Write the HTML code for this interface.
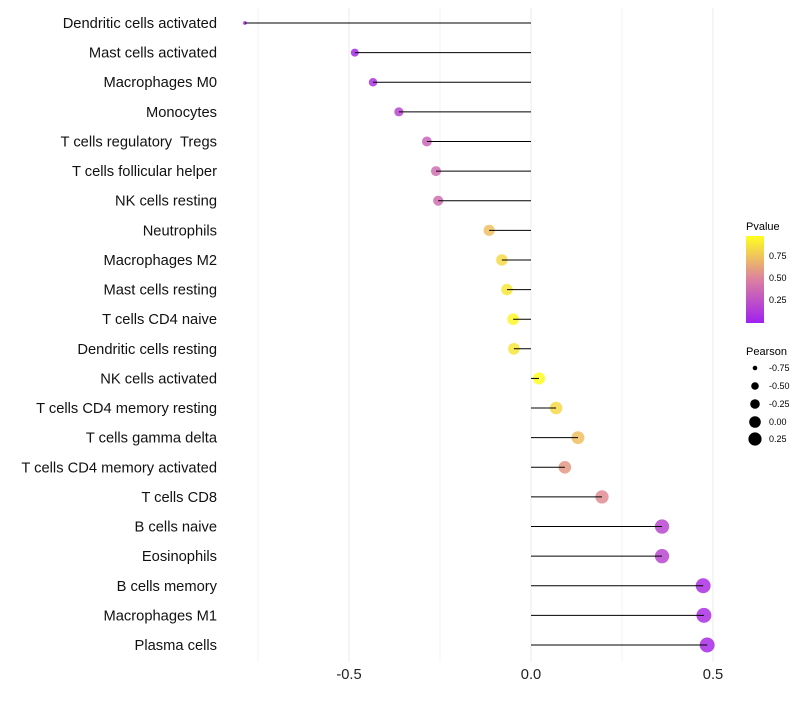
<!DOCTYPE html>
<html><head><meta charset="utf-8"><style>
body{margin:0;background:#fff;font-family:"Liberation Sans",sans-serif}
text{white-space:pre}
</style></head><body>
<svg id="c" width="800" height="700" xmlns="http://www.w3.org/2000/svg">
<defs><linearGradient id="pg" x1="0" y1="1" x2="0" y2="0">
<stop offset="0" stop-color="#a020f0"/><stop offset="0.5" stop-color="#dc80a0"/><stop offset="1" stop-color="#ffff20"/></linearGradient></defs>
<g id="grid"></g><g id="marks"></g><g id="labels"></g>
<g>
<text x="746" y="230" font-size="11">Pvalue</text>
<rect x="746" y="236" width="18" height="87" fill="url(#pg)"/>
<text x="769" y="259" font-size="9">0.75</text>
<text x="769" y="281" font-size="9">0.50</text>
<text x="769" y="303" font-size="9">0.25</text>
</g>
<g>
<text x="746" y="355" font-size="11">Pearson</text>
<circle cx="755" cy="368" r="2.3"/><text x="769" y="371" font-size="9">-0.75</text>
<circle cx="755" cy="386" r="3.8"/><text x="769" y="389" font-size="9">-0.50</text>
<circle cx="755" cy="404" r="4.8"/><text x="769" y="407" font-size="9">-0.25</text>
<circle cx="755" cy="422" r="5.8"/><text x="769" y="425" font-size="9">0.00</text>
<circle cx="755" cy="439" r="6.6"/><text x="769" y="442" font-size="9">0.25</text>
</g>
</svg>
<script>
const categories=["Dendritic cells activated","Mast cells activated","Macrophages M0","Monocytes","T cells regulatory  Tregs","T cells follicular helper","NK cells resting","Neutrophils","Macrophages M2","Mast cells resting","T cells CD4 naive","Dendritic cells resting","NK cells activated","T cells CD4 memory resting","T cells gamma delta","T cells CD4 memory activated","T cells CD8","B cells naive","Eosinophils","B cells memory","Macrophages M1","Plasma cells"];
const pearson=[-0.786,-0.484,-0.434,-0.363,-0.286,-0.261,-0.255,-0.115,-0.080,-0.066,-0.049,-0.047,0.022,0.069,0.129,0.093,0.195,0.36,0.36,0.473,0.475,0.484];
const pvalue=[0.0,0.05,0.1,0.2,0.35,0.4,0.4,0.75,0.85,0.9,0.97,0.9,1.0,0.85,0.75,0.6,0.55,0.2,0.2,0.08,0.08,0.06];
const xTicks=[-0.5,0,0.5];
const xTickLabels=["-0.5","0.0","0.5"];
const xGrid=[-0.75,-0.25,0.25];
const NS="http://www.w3.org/2000/svg";
const X=v=>531+v*364;
const Y=i=>23+i*(622/21);
const R=v=>Math.sqrt(3.2+(v+0.79)/1.27*52.8);
function lerp(a,b,t){return a.map((x,k)=>Math.round(x+(b[k]-x)*t));}
function col(p){const a=[160,32,240],m=[220,128,160],b=[255,255,32];const c=p<0.5?lerp(a,m,p/0.5):lerp(m,b,(p-0.5)/0.5);return `rgb(${c.join(",")})`;}
function mk(t,at,parent){const e=document.createElementNS(NS,t);for(const k in at)e.setAttribute(k,at[k]);parent.appendChild(e);return e;}
const grid=document.getElementById('grid'),marks=document.getElementById('marks'),labels=document.getElementById('labels');
xTicks.concat(xGrid).forEach(v=>{const l=mk('line',{x1:X(v),x2:X(v),y1:8,y2:662,stroke:'#ebebeb','stroke-width':xTicks.includes(v)?1:0.6},grid);

});
xTicks.forEach((v,i)=>{const t=mk('text',{x:X(v),y:679,'font-size':14.7,'text-anchor':'middle',fill:'#222'},labels);t.textContent=xTickLabels[i];

});
categories.forEach((c,i)=>{
const t=mk('text',{x:217,y:Y(i)+5,'font-size':14.7,'text-anchor':'end',fill:'#111'},labels);t.textContent=c;


const ci=mk('circle',{cx:X(pearson[i]),cy:Y(i),r:R(pearson[i]),fill:col(pvalue[i]),'fill-opacity':0.85},marks);


const l=mk('line',{x1:X(0),x2:X(pearson[i]),y1:Y(i),y2:Y(i),stroke:'#000','stroke-width':1},marks);


});
</script>
</body></html>
